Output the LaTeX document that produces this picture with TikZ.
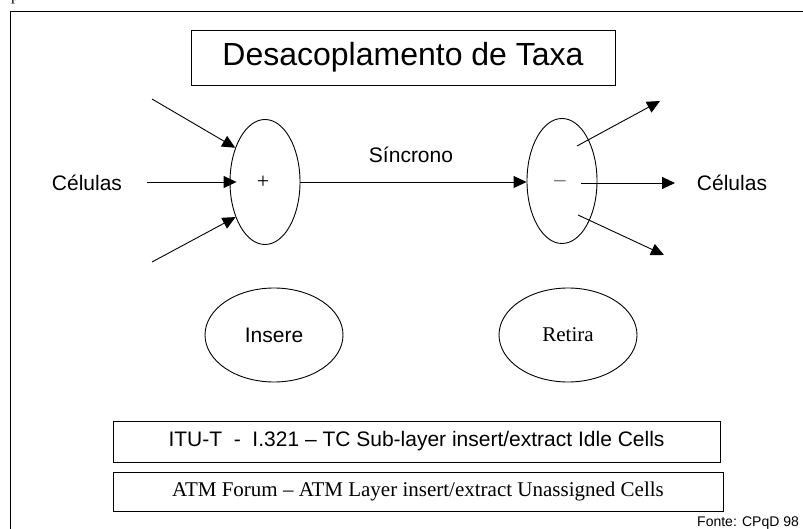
\documentclass[tikz,border=0pt]{standalone}
\usepackage{fontspec}
\setmainfont{Liberation Sans}
\newfontfamily\tms{Liberation Serif}
\usetikzlibrary{shapes.geometric,arrows.meta}
\tikzset{
  ln/.style={line width=0.9pt, draw=black},
  arr/.style={ln, -{Triangle[length=13pt,width=12pt]}},
  txt/.style={inner sep=0pt, font=\fontsize{21}{24}\selectfont},
  boxed/.style={ln, rectangle, inner sep=0pt},
  oval/.style={ln, ellipse, inner sep=0pt},
}
\begin{document}
\begin{tikzpicture}[x=1pt,y=-1pt]
\useasboundingbox (0,0) rectangle (803,529);
\clip (0,0) rectangle (803,529);
% fragment at top-left
\node[anchor=base west, inner sep=0pt, font=\tms\fontsize{16}{18}\selectfont] (frag) at (11,0.5) {p};
% outer frame
\draw[ln] (10,11) rectangle (830,560);
% title
\node[boxed, minimum width=424pt, minimum height=55pt, font=\fontsize{32}{36}\selectfont] (title) at (403,57.5) {Desacoplamento de Taxa};
% main ellipses
\node[oval, minimum width=70pt, minimum height=125pt] (L) at (265,182) {};
\node[oval, minimum width=70pt, minimum height=125pt] (R) at (562,181) {};
\node[inner sep=0pt, font=\tms\fontsize{22}{24}\selectfont] (plus) at (263,182) {+};
\node[inner sep=0pt, font=\fontsize{21}{24}\selectfont, text=gray] (minus) at (560,183) {\textendash};
% labels
\node[txt] (cel1) at (87,183) {Células};
\node[txt] (cel2) at (732,183) {Células};
\node[txt] (sinc) at (411,155) {Síncrono};
% free ends
\coordinate (a1) at (152,99);
\coordinate (a2) at (147,182);
\coordinate (a3) at (152,262);
\coordinate (b1s) at (577,146);
\coordinate (b1e) at (660,101);
\coordinate (b2s) at (581,183);
\coordinate (b2e) at (675,183);
\coordinate (b3s) at (578,215);
\coordinate (b3e) at (664,255);
% arrows
\draw[arr] (a1) -- (L.131);
\draw[arr, shorten >=-7pt] (a2) -- (L.west);
\draw[arr] (a3) -- (L.230);
\draw[arr] (L.east) -- (R.west |- L.east);
\draw[arr] (b1s) -- (b1e);
\draw[arr] (b2s) -- (b2e);
\draw[arr] (b3s) -- (b3e);
% lower ellipses
\node[oval, minimum width=138pt, minimum height=94pt, font=\fontsize{21}{24}\selectfont] (ins) at (274,335) {Insere};
\node[oval, minimum width=138pt, minimum height=94pt, font=\tms\fontsize{21}{24}\selectfont] (ret) at (568,335) {Retira};
% bottom boxes
\node[boxed, minimum width=607pt, minimum height=41pt, font=\fontsize{21}{24}\selectfont] (itu) at (416.5,441.5) {ITU-T \ - \ I.321 \textendash{} TC Sub-layer insert/extract Idle Cells};
\node[boxed, minimum width=610pt, minimum height=39pt, font=\tms\fontsize{21}{24}\selectfont] (atm) at (418,491.5) {ATM Forum \textendash{} ATM Layer insert/extract Unassigned Cells};
% source
\node[anchor=base west, inner sep=0pt, font=\fontsize{14}{16}\selectfont] (fonte) at (697,526) {Fonte: CPqD 98};
\end{tikzpicture}
\end{document}
